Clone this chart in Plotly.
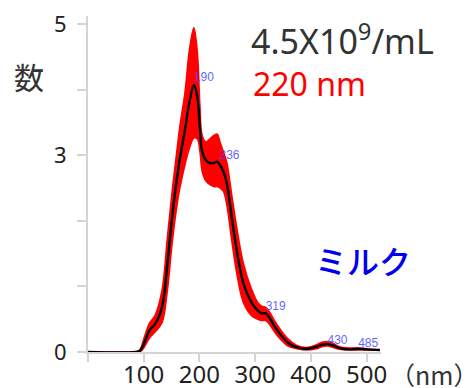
import plotly.graph_objects as go

size_nm = [0, 85, 93, 100, 111, 120, 133, 142, 151, 160, 165, 174, 182, 190, 196, 201, 205, 212,
           219, 226, 232, 237, 243, 249, 258, 267, 279, 294, 305, 312, 319, 325, 339, 359, 375,
           393, 410, 420, 430, 440, 452, 470, 485, 500, 524]
mean_count = [0, 0, 0.02, 0.12, 0.34, 0.42, 0.69, 1.3, 2.06, 2.67, 2.95, 3.38, 3.8, 4.07, 3.9, 3.4,
              3.05, 2.92, 2.88, 2.88, 2.9, 2.85, 2.75, 2.58, 2.06, 1.55, 1.05, 0.75, 0.63, 0.59,
              0.59, 0.53, 0.34, 0.14, 0.07, 0.05, 0.08, 0.11, 0.12, 0.1, 0.06, 0.04, 0.05, 0.04, 0.03]
upper_count = [0, 0, 0.03, 0.2, 0.45, 0.55, 0.95, 1.7, 2.45, 3.1, 3.45, 3.95, 4.6, 4.94, 4.6, 3.75,
               3.3, 3.2, 3.25, 3.3, 3.32, 3.2, 3.05, 2.9, 2.4, 1.9, 1.35, 0.95, 0.75, 0.7, 0.68,
               0.62, 0.42, 0.2, 0.1, 0.07, 0.11, 0.15, 0.16, 0.13, 0.08, 0.06, 0.06, 0.05, 0.03]
lower_count = [0, 0, 0.0, 0.06, 0.22, 0.3, 0.45, 0.9, 1.65, 2.25, 2.5, 2.85, 3.1, 3.26, 3.25, 3.05,
               2.75, 2.6, 2.55, 2.52, 2.52, 2.5, 2.45, 2.25, 1.7, 1.2, 0.75, 0.55, 0.5, 0.48, 0.48,
               0.43, 0.26, 0.09, 0.05, 0.03, 0.05, 0.08, 0.09, 0.07, 0.04, 0.03, 0.03, 0.03, 0.03]

peak_x = [190, 236, 319, 430, 485]
peak_y = [4.17, 2.98, 0.68, 0.17, 0.12]
peak_labels = ["190", "236", "319", "430", "485"]

x_ticks = [0, 100, 200, 300, 400, 500]
x_ticktext = ["", "100", "200", "300", "400", "500"]
y_ticks = [0, 1, 2, 3, 4, 5]
y_ticktext = ["0", "", "", "3", "", "5"]

fig = go.Figure()
fig.add_trace(go.Scatter(x=size_nm, y=lower_count, mode="lines",
                         line=dict(color="red", width=0, shape="spline"), showlegend=False))
fig.add_trace(go.Scatter(x=size_nm, y=upper_count, mode="lines", fill="tonexty",
                         fillcolor="red", line=dict(color="red", width=1.5, shape="spline"),
                         showlegend=False))
fig.add_trace(go.Scatter(x=size_nm, y=lower_count, mode="lines",
                         line=dict(color="red", width=1.5, shape="spline"), showlegend=False))
fig.add_trace(go.Scatter(x=size_nm, y=mean_count, mode="lines",
                         line=dict(color="black", width=2.4, shape="spline"), showlegend=False))
fig.add_trace(go.Scatter(x=peak_x, y=peak_y, mode="text", text=peak_labels,
                         textposition="middle right",
                         textfont=dict(family="Liberation Sans", size=12, color="rgba(70,70,255,0.85)"),
                         showlegend=False))

axis_col = "#d4d4d4"
fig.update_xaxes(range=[0, 526], showgrid=False, zeroline=False, showline=True, automargin=False,
                 linecolor=axis_col, linewidth=2, ticks="outside", ticklen=8, tickwidth=2,
                 tickcolor=axis_col, tickvals=x_ticks, ticktext=x_ticktext,
                 ticklabelstandoff=-8,
                 tickfont=dict(family="Noto Sans", size=24, color="#222"))
fig.update_yaxes(range=[0, 5.12], showgrid=False, zeroline=False, showline=True, automargin=False,
                 linecolor=axis_col, linewidth=2, ticks="outside", ticklen=9, tickwidth=2,
                 tickcolor=axis_col, tickvals=y_ticks, ticktext=y_ticktext,
                 ticklabelstandoff=6,
                 tickfont=dict(family="Noto Sans", size=22, color="#222"))

fig.add_annotation(text="数", xref="paper", yref="paper", x=-0.2, y=0.82,
                   xanchor="center", yanchor="middle", showarrow=False,
                   font=dict(family="Noto Sans CJK JP", size=30, color="#333"))
fig.add_annotation(text="4.5X10<sup>9</sup>/mL", xref="paper", yref="paper", x=0.55, y=0.93,
                   xanchor="left", yanchor="middle", showarrow=False,
                   font=dict(family="Noto Sans", size=34, color="#333"))
fig.add_annotation(text="220 nm", xref="paper", yref="paper", x=0.555, y=0.80,
                   xanchor="left", yanchor="middle", showarrow=False,
                   font=dict(family="Noto Sans", size=32, color="red"))
fig.add_annotation(text="ミルク", xref="paper", yref="paper", x=0.94, y=0.274,
                   xanchor="center", yanchor="middle", showarrow=False,
                   font=dict(family="Noto Sans CJK JP", size=32, color="#0000ee", weight=500))
fig.add_annotation(text="（nm）", xref="paper", yref="paper", x=1.024, y=-0.065,
                   xanchor="left", yanchor="middle", showarrow=False,
                   font=dict(family="Noto Sans CJK JP", size=25, color="#333"))

fig.update_layout(width=476, height=388, margin=dict(l=88, r=95, t=16, b=36),
                  paper_bgcolor="white", plot_bgcolor="white")
fig.write_html("out.html")
